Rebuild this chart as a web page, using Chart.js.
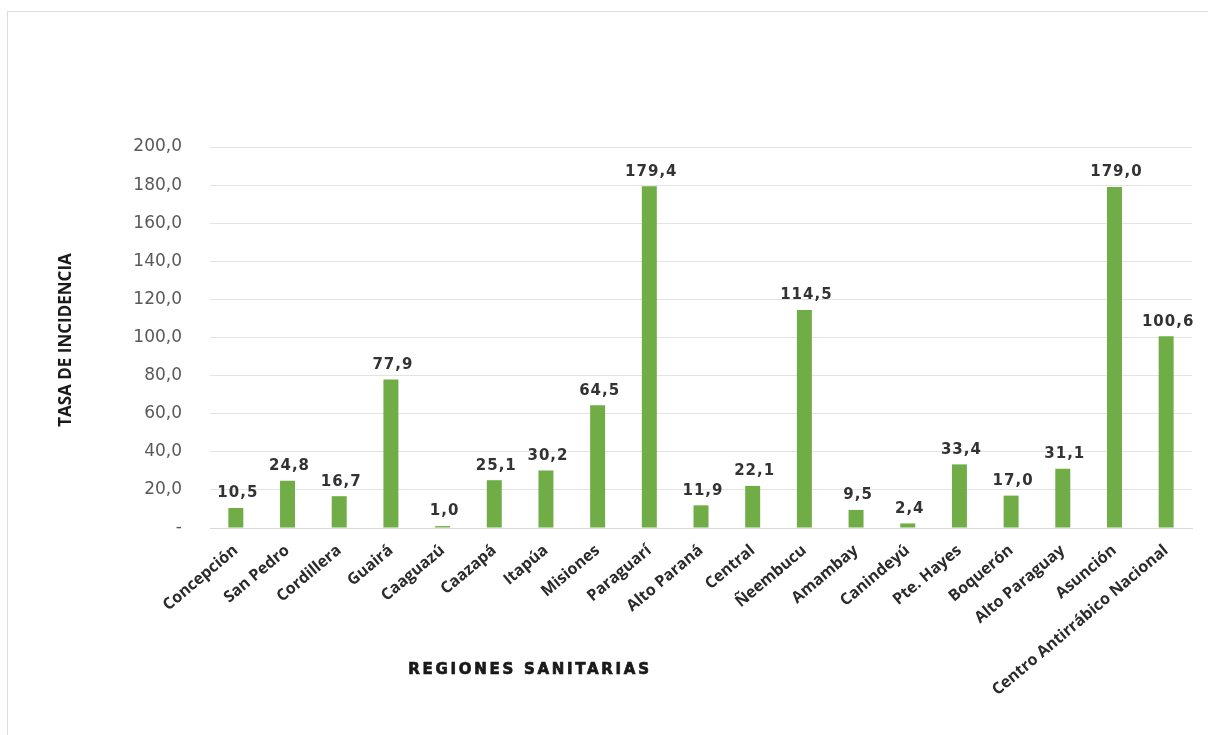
<!DOCTYPE html>
<html>
<head>
<meta charset="utf-8">
<script src="https://cdn.jsdelivr.net/npm/chart.js@4/dist/chart.umd.min.js"></script>
<style>
  body { margin: 0; background: #fff; }
  #wrap { position: relative; width: 1208px; height: 735px; }
  #frame { position: absolute; left: 7px; top: 11px; width: 1200px; height: 730px; border: 1px solid #dcdcdc; pointer-events: none; }
</style>
</head>
<body>
<div id="wrap">
  <canvas id="myChart" width="1208" height="735"></canvas>
  <div id="frame"></div>
</div>
<script>
var regiones = ['Concepción', 'San Pedro', 'Cordillera', 'Guairá', 'Caaguazú', 'Caazapá', 'Itapúa', 'Misiones',
    'Paraguarí', 'Alto Paraná', 'Central', 'Ñeembucu', 'Amambay', 'Canindeyú', 'Pte. Hayes', 'Boquerón',
    'Alto Paraguay', 'Asunción', 'Centro Antirrábico Nacional']
var tasas = [10.5, 24.8, 16.7, 77.9, 1.0, 25.1, 30.2, 64.5, 179.4, 11.9, 22.1, 114.5, 9.5, 2.4, 33.4, 17.0, 31.1, 179.0, 100.6]
var yTicks = [0, 20, 40, 60, 80, 100, 120, 140, 160, 180, 200]

function coma(v) {
    return v.toFixed(1).replace('.', ',')
}

// labels above the bars and the two axis titles
var etiquetas = {
    id: 'etiquetas',
    afterDatasetsDraw: function(chart) {
        var ctx = chart.ctx
        var meta = chart.getDatasetMeta(0)
        ctx.save()
        ctx.letterSpacing = '1px'
        ctx.fillStyle = '#333333'
        ctx.font = 'bold 15px "DejaVu Sans", sans-serif'
        ctx.textAlign = 'center'
        ctx.textBaseline = 'bottom'
        meta.data.forEach(function(bar, i) {
            ctx.fillText(coma(tasas[i]), bar.x + 2, bar.y - 7)
        })

        ctx.fillStyle = '#1a1a1a'
        ctx.strokeStyle = '#1a1a1a'
        ctx.lineWidth = 0.7
        ctx.letterSpacing = '2.7px'
        ctx.font = 'bold 15px "DejaVu Sans", sans-serif'
        ctx.fillText('REGIONES SANITARIAS', 530, 678)
        ctx.strokeText('REGIONES SANITARIAS', 530, 678)

        ctx.letterSpacing = '0px'
        ctx.translate(66, 340)
        ctx.rotate(-Math.PI / 2)
        ctx.textBaseline = 'middle'
        ctx.font = 'bold 17px "Open Sans", sans-serif'
        ctx.fillText('TASA DE INCIDENCIA', 0, 0)
        ctx.restore()
    }
}

var ctx = document.getElementById('myChart').getContext('2d')
var chart = new Chart(ctx, {
    type: 'bar',
    data: {
        labels: regiones,
        datasets: [{
            data: tasas,
            backgroundColor: '#70AD47',
            barPercentage: 0.29,
            categoryPercentage: 1.0
        }]
    },
    options: {
        responsive: false,
        animation: false,
        layout: { padding: { top: 147, right: 16, left: 0, bottom: 0 } },
        plugins: {
            legend: { display: false },
            tooltip: { enabled: false }
        },
        scales: {
            x: {
                grid: { display: false },
                border: { color: '#d9d9d9' },
                ticks: {
                    color: '#2b2b2b',
                    font: { family: '"Open Sans", sans-serif', size: 16, weight: 'bold' },
                    minRotation: 40,
                    maxRotation: 40,
                    autoSkip: false,
                    padding: 5
                },
                afterFit: function(scale) { scale.height = 207 }
            },
            y: {
                min: 0,
                max: 200,
                afterBuildTicks: function(scale) {
                    scale.ticks = yTicks.map(function(v) { return { value: v } })
                },
                grid: { color: '#e3e3e3', drawTicks: false },
                border: { display: false },
                ticks: {
                    color: '#595959',
                    font: { family: '"DejaVu Sans", sans-serif', size: 17 },
                    padding: 28,
                    callback: function(v) { return v === 0 ? '-' : coma(v) }
                },
                afterFit: function(scale) { scale.width = 210 }
            }
        }
    },
    plugins: [etiquetas]
})
</script>
</body>
</html>
